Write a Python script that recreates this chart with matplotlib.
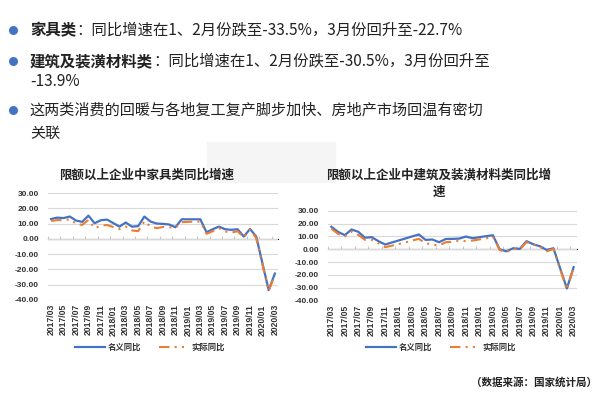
import numpy as np
import pandas as pd
import matplotlib
matplotlib.use('Agg')
import matplotlib.pyplot as plt
from matplotlib.patches import Rectangle

plt.rcParams['font.family'] = ['Noto Sans CJK SC', 'DejaVu Sans']

# ---------------- data ----------------
months = list(pd.period_range('2017-03', '2020-03', freq='M').strftime('%Y/%m'))
nan = np.nan

furniture_nominal = [13.0, 13.9, 13.6, 14.6, 12.0, 11.1, 15.2, 10.2, 12.2, 12.6,
                     nan, 8.0, 10.7, 8.0, 8.3, 14.6, 11.3, 10.0, 9.8, 9.4,
                     7.6, 12.8, nan, 12.8, 12.8, 4.3, 6.3, 8.0, 6.3, 5.9,
                     6.3, 1.5, 6.5, 1.5, nan, -33.5, -22.7]
furniture_real = [11.7, 12.3, 12.2, 12.8, 10.0, 9.1, 12.4, 7.0, 8.5, 9.1,
                  nan, 6.3, 8.0, 5.5, 5.0, 11.5, 8.0, 7.0, 7.8, 7.6,
                  7.2, 10.9, nan, 11.3, 11.3, 3.3, 5.0, 7.0, 4.8, 4.1,
                  5.0, 0.9, 6.3, 0.4, nan, -34.0, -23.5]

building_nominal = [17.5, 13.5, 11.0, 15.4, 13.6, 9.0, 9.4, 6.3, 3.7, 5.3,
                    nan, 8.4, 10.0, 11.5, 7.3, 7.6, 5.5, 8.0, 8.1, 8.3,
                    9.9, 8.6, nan, 10.2, 10.9, 0.0, -1.6, 0.8, 0.3, 6.3,
                    3.9, 2.3, -0.5, 0.8, nan, -30.5, -13.9]
building_real = [16.0, 12.0, 10.0, 13.8, 11.2, 7.3, 7.3, 4.7, 1.6, 2.8,
                 nan, 5.3, 6.8, 8.1, 4.7, 3.7, 2.9, 5.5, 5.8, 6.8,
                 6.3, 6.8, nan, 8.5, 9.9, -0.5, -2.3, 0.3, 0.0, 5.5,
                 3.7, 1.8, -1.6, 0.3, nan, -31.5, -14.0]

title1 = '限额以上企业中家具类同比增速'
title2 = '限额以上企业中建筑及装潢材料类同比增\n速'
series_names = ['名义同比', '实际同比']

BLUE = '#4472C4'
ORANGE = '#ED7D31'
TXT = '#222222'
FS = 11.1

W, H = 600, 394
fig = plt.figure(figsize=(6.0, 3.94), dpi=100)
fig.patch.set_facecolor('white')

# overlay axes in pixel coordinates (for slide text)
ax0 = fig.add_axes([0, 0, 1, 1])
ax0.set_xlim(0, W)
ax0.set_ylim(H, 0)
ax0.axis('off')
ax0.set_zorder(-1)
ax0.add_patch(Rectangle((207, 142), 128, 40, color='#f5f5f5', zorder=0))


def bullet_line(y, bold, normal, size=FS):
    ax0.plot([13], [y], 'o', color=BLUE, ms=6.5, mec='none')
    t1 = ax0.text(30, y, bold, fontsize=size, fontweight='bold', color=TXT,
                  va='center', ha='left')
    if normal:
        ax0.annotate(normal, xy=(1, 0), xycoords=t1, fontsize=size,
                     color=TXT, va='bottom', ha='left')
    return t1


bullet_line(30, '家具类', '：同比增速在1、2月份跌至-33.5%，3月份回升至-22.7%')
bullet_line(61, '建筑及装潢材料类', '：同比增速在1、2月份跌至-30.5%，3月份回升至')
ax0.text(30, 81, '-13.9%', fontsize=FS, color=TXT, va='center', ha='left')
ax0.plot([13], [110], 'o', color=BLUE, ms=6.5, mec='none')
ax0.text(30, 110, '这两类消费的回暖与各地复工复产脚步加快、房地产市场回温有密切',
         fontsize=FS * 0.98, color=TXT, va='center', ha='left')
ax0.text(30, 133, '关联', fontsize=FS * 0.98, color=TXT, va='center', ha='left')

ax0.text(147, 175, title1, fontsize=9, fontweight='bold', color=TXT,
         ha='center', va='center')
ax0.text(439, 183.5, title2, fontsize=9, fontweight='bold', color=TXT,
         ha='center', va='center', multialignment='center', linespacing=1.35)

ax0.text(597, 382, '（数据来源：国家统计局）', fontsize=7.6, fontweight='bold',
         color=TXT, ha='right', va='center')


def px_axes(left, top, right, bottom):
    return fig.add_axes([left / W, (H - bottom) / H, (right - left) / W,
                         (bottom - top) / H])


def draw(ax, nominal, real, legend_center):
    x = np.arange(len(months))
    n = np.array(nominal, float)
    r = np.array(real, float)
    mn = ~np.isnan(n)
    mr = ~np.isnan(r)
    ax.set_facecolor('none')
    l1, = ax.plot(x[mn], n[mn], color=BLUE, lw=1.6, label=series_names[0],
                  zorder=3, solid_joinstyle='round')
    l2, = ax.plot(x[mr], r[mr], color=ORANGE, lw=1.5,
                  ls=(0, (5, 2.5, 1, 2.5, 1, 2.5)), label=series_names[1],
                  zorder=4)
    ax.set_xlim(-0.5, len(months) - 0.5)
    ax.set_ylim(-40, 30)
    ax.set_yticks(np.arange(-40, 31, 10))
    ax.set_yticklabels([f'{v:.2f}' for v in np.arange(-40, 31, 10)])
    ax.set_xticks(x[::2])
    ax.set_xticklabels(months[::2], rotation=90)
    for s in ax.spines.values():
        s.set_visible(False)
    ax.yaxis.grid(True, color='#d9d9d9', lw=0.8)
    ax.set_axisbelow(True)
    ax.tick_params(axis='y', length=0, pad=6.5, labelsize=6, labelcolor='#333333')
    ax.tick_params(axis='x', length=0, pad=3, labelsize=6.2, labelcolor='#333333')
    for lab in ax.get_yticklabels() + ax.get_xticklabels():
        lab.set_fontweight('bold')
        lab.set_family(['Liberation Sans', 'DejaVu Sans'])
    # category axis line at zero with small tick marks (no labels)
    sec = ax.secondary_xaxis(40 / 70)
    ticks = np.arange(-0.5, len(months), 2)
    sec.set_xticks(ticks)
    sec.set_xticklabels([''] * len(ticks))
    sec.tick_params(length=2.5, width=0.6, color='#bfbfbf')
    sec.spines['bottom'].set_color('#d9d9d9')
    sec.spines['bottom'].set_linewidth(0.8)
    leg = ax.legend(handles=[l1, l2], loc='center',
                    bbox_to_anchor=(legend_center[0] / W, 1 - legend_center[1] / H),
                    bbox_transform=fig.transFigure, ncol=2, frameon=False,
                    fontsize=6, handlelength=3.6, columnspacing=2.2,
                    handletextpad=0.3)
    for tx in leg.get_texts():
        tx.set_fontweight('bold')
        tx.set_color('#333333')


ax1 = px_axes(48, 193, 278, 300)
draw(ax1, furniture_nominal, furniture_real, (150, 347))

ax2 = px_axes(328, 210.7, 577, 300.7)
draw(ax2, building_nominal, building_real, (441, 347))

fig.savefig('out.png', dpi=100, facecolor='white')
